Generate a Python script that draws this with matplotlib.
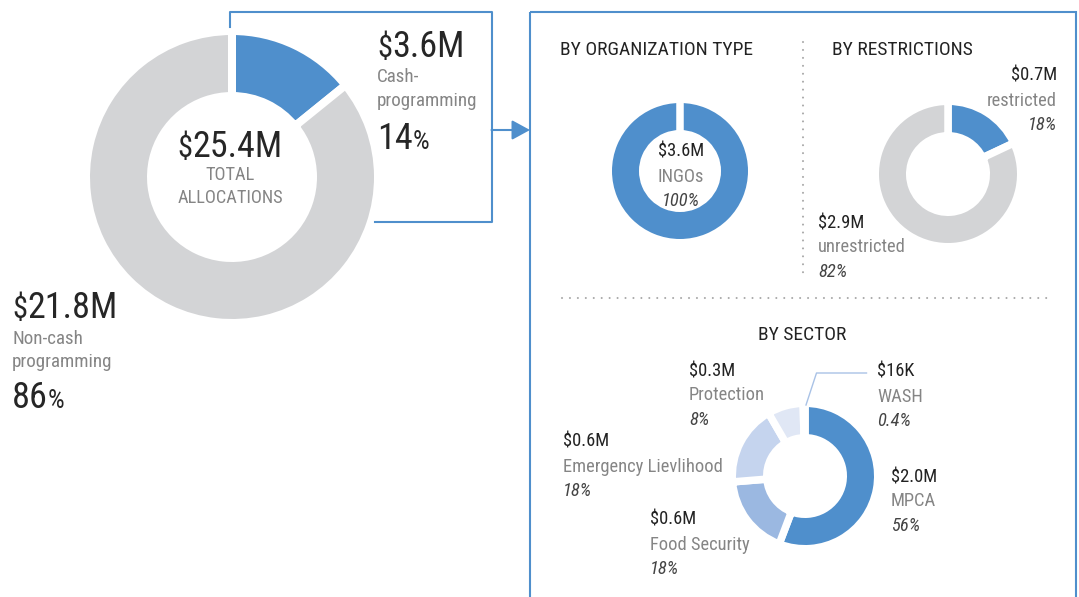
import matplotlib
matplotlib.use('Agg')
import matplotlib.pyplot as plt
from matplotlib import font_manager
from matplotlib.transforms import Affine2D
from matplotlib.lines import Line2D
from matplotlib.patches import FancyArrowPatch, Rectangle

# ---------------- data ----------------
total_text = '25.4M'
main_labels = ['Cash-\nprogramming', 'Non-cash\nprogramming']
main_value_text = ['3.6M', '21.8M']
main_values = [3.6, 21.8]
main_pct = [14, 86]

org_labels = ['INGOs']
org_value_text = ['$3.6M']
org_pct = [100]

restr_labels = ['restricted', 'unrestricted']
restr_value_text = ['$0.7M', '$2.9M']
restr_pct = [18, 82]

sector_labels = ['MPCA', 'Food Security', 'Emergency Lievlihood', 'Protection', 'WASH']
sector_value_text = ['$2.0M', '$0.6M', '$0.6M', '$0.3M', '$16K']
sector_pct = [56, 18, 18, 8, 0.4]

# ---------------- style ----------------
BLUE = '#4f8fcc'
GRAY = '#d3d4d6'
SECTOR_COLORS = ['#4f8fcc', '#9bb8e1', '#c5d4ee', '#e0e7f5', '#eef2fa']
DARK = '#222222'
LABEL = '#858585'
PCT = '#444444'
BIG = '#262626'

names = {f.name for f in font_manager.fontManager.ttflist}
FAM = 'Roboto Condensed' if 'Roboto Condensed' in names else 'Roboto'

W, H = 1079, 597
fig = plt.figure(figsize=(W / 100, H / 100), dpi=100)
fig.patch.set_facecolor('white')
T = Affine2D().scale(1 / W, -1 / H).translate(0, 1) + fig.transFigure
R = fig.canvas.get_renderer()


def rich(x, y, pieces, ha='left', weight='normal'):
    texts, widths = [], []
    for s, size, color, style in pieces:
        t = fig.text(0, 0, s, fontsize=size, color=color, style=style,
                     family=FAM, transform=T, va='baseline', ha='left',
                     fontweight=weight)
        texts.append(t)
        widths.append(t.get_window_extent(renderer=R).width)
    tot = sum(widths)
    x0 = x - tot / 2 if ha == 'center' else (x - tot if ha == 'right' else x)
    for t, w in zip(texts, widths):
        t.set_position((x0, y))
        x0 += w


def label_block(x, y, value, label, pct, ha='left', step=24.5, size=13.3):
    rich(x, y, [(value, size, DARK, 'normal')], ha=ha)
    rich(x, y + step, [(label, size, LABEL, 'normal')], ha=ha)
    rich(x, y + 2 * step, [(f'{pct:g}%', size, PCT, 'italic')], ha=ha)


def donut(cx, cy, r_out, r_in, values, colors, gap):
    h = r_out + 14
    ax = fig.add_axes([(cx - h) / W, 1 - (cy + h) / H, 2 * h / W, 2 * h / H])
    ax.pie(values, colors=colors, startangle=90, counterclock=False,
           radius=r_out + gap / 2,
           wedgeprops=dict(width=r_out - r_in + gap, edgecolor='white',
                           linewidth=gap * 0.72))
    ax.set_xlim(-h, h)
    ax.set_ylim(-h, h)
    ax.set_aspect('auto')
    ax.axis('off')
    return ax


def line(xs, ys, color=BLUE, lw=1.5, **kw):
    fig.add_artist(Line2D(xs, ys, transform=T, color=color, lw=lw, **kw))


BIG_SZ, DOL_SZ, PCT_SZ = 26, 22, 19

# ---------------- main donut ----------------
donut(232, 177, 142, 85, main_values, [BLUE, GRAY], gap=8)
rich(230, 157, [('$', DOL_SZ, BIG, 'normal'), (total_text, BIG_SZ, BIG, 'normal')],
     ha='center')
rich(230, 180, [('TOTAL', 13.2, LABEL, 'normal')], ha='center')
rich(230, 203, [('ALLOCATIONS', 13.2, LABEL, 'normal')], ha='center')

# cash label
rich(377, 57, [('$', DOL_SZ, BIG, 'normal'), (main_value_text[0], BIG_SZ, BIG, 'normal')])
for i, ln in enumerate(main_labels[0].split('\n')):
    rich(377, 82 + 24 * i, [(ln, 13.7, LABEL, 'normal')])
rich(377, 149, [(f'{main_pct[0]}', BIG_SZ, BIG, 'normal'), ('%', PCT_SZ, BIG, 'normal')])

# non-cash label
rich(12, 318, [('$', DOL_SZ, BIG, 'normal'), (main_value_text[1], BIG_SZ, BIG, 'normal')])
for i, ln in enumerate(main_labels[1].split('\n')):
    rich(12, 344 + 23 * i, [(ln, 13.7, LABEL, 'normal')])
rich(12, 408, [(f'{main_pct[1]}', BIG_SZ, BIG, 'normal'), ('%', PCT_SZ, BIG, 'normal')])

# connector lines + arrow
line([230, 230, 491.5, 491.5, 375], [27, 12, 12, 221.5, 221.5])
fig.add_artist(FancyArrowPatch((491.5, 130), (530, 130), transform=T,
                               arrowstyle='-|>,head_length=0.55,head_width=0.3',
                               mutation_scale=20, color=BLUE, lw=1.5,
                               shrinkA=0, shrinkB=0))
fig.add_artist(Rectangle((529.5, 11.5), 1076 - 529.5, 700, transform=T,
                         fill=False, edgecolor=BLUE, lw=1.5))

# ---------------- section titles / separators ----------------
rich(560, 55, [('BY ORGANIZATION TYPE', 14, DARK, 'normal')])
rich(832, 55, [('BY RESTRICTIONS', 14, DARK, 'normal')])
rich(802, 340, [('BY SECTOR', 14, DARK, 'normal')], ha='center')
line([802.5, 802.5], [42, 278], color='#a8a8a8', lw=1.5, ls=(0, (0.01, 3.8)),
     dash_capstyle='round')
line([562, 1049], [298, 298], color='#a8a8a8', lw=1.5, ls=(0, (0.01, 3.8)),
     dash_capstyle='round')

# ---------------- org type donut ----------------
ax_org = donut(680, 171, 68, 41, org_pct, [BLUE], gap=7.5)
ax_org.plot([0, 0], [35, 80], color='white', lw=7.5 * 0.72, solid_capstyle='butt')
label_block(681, 157, org_value_text[0], org_labels[0], org_pct[0], ha='center')

# ---------------- restrictions donut ----------------
donut(948, 174, 69, 42, restr_pct, [BLUE, GRAY], gap=7.5)
label_block(1057, 81, restr_value_text[0], restr_labels[0], restr_pct[0], ha='right')
label_block(818, 228, restr_value_text[1], restr_labels[1], restr_pct[1])

# ---------------- sector donut ----------------
donut(805, 476, 69, 42, sector_pct, SECTOR_COLORS, gap=7.5)
label_block(891, 482, sector_value_text[0], sector_labels[0], sector_pct[0])
label_block(650, 525, sector_value_text[1], sector_labels[1], sector_pct[1])
label_block(563, 447, sector_value_text[2], sector_labels[2], sector_pct[2])
label_block(689, 376, sector_value_text[3], sector_labels[3], sector_pct[3])
label_block(877, 377, sector_value_text[4], sector_labels[4], sector_pct[4])
line([806, 816.5, 866.5], [405, 373, 373], color='#a9c2e6', lw=1.0)

fig.savefig('out.png', dpi=100, facecolor='white')
